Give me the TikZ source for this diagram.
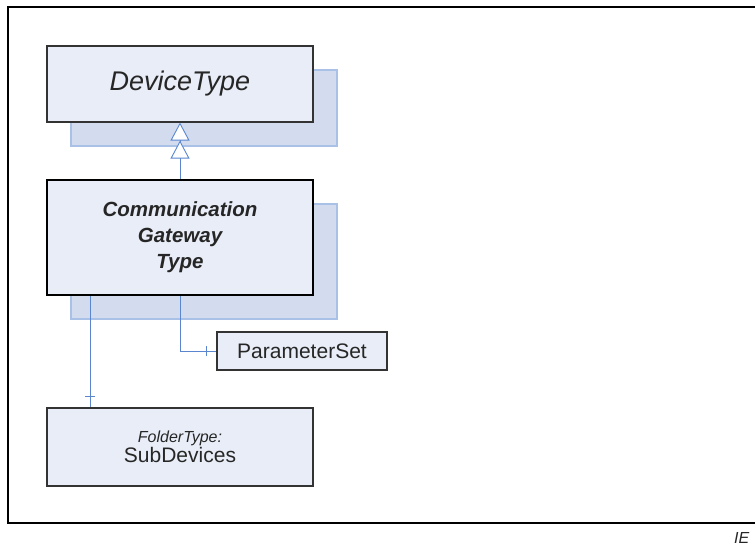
\documentclass[tikz,border=0pt]{standalone}
\usepackage{fontspec}
\setmainfont{Liberation Sans}
\usetikzlibrary{arrows.meta}
\definecolor{boxfill}{HTML}{E8EDF7}
\definecolor{shadefill}{HTML}{D2DCEE}
\definecolor{shadeline}{HTML}{A9C1E6}
\definecolor{linkblue}{HTML}{5B86CF}
\definecolor{textgray}{HTML}{262626}
\tikzset{
  classbox/.style={draw=black!80, line width=1.2pt, fill=boxfill, text=textgray,
    inner sep=0pt, align=center},
  shadowbox/.style={draw=shadeline, line width=1.4pt, fill=shadefill, inner sep=0pt},
  link/.style={draw=linkblue, line width=0.9pt},
  inherit/.style={link, -{Triangle[fill=white, length=18pt, width=19pt, line width=0.9pt]
    Triangle[fill=white, length=18pt, width=19pt, line width=0.9pt]}},
}
\begin{document}
\begin{tikzpicture}[x=1pt, y=-1pt]
  \useasboundingbox (0,0) rectangle (755,545);

  % outer frame, right side runs off the page
  \draw[line width=1.5pt] (770,7) -- (8,7) -- (8,523) -- (770,523);
  \node[anchor=base west, inner sep=0pt, font=\fontsize{16}{18}\selectfont\itshape,
        text=textgray] (tag) at (734,543) {IE};

  % shadows
  \node[shadowbox, minimum width=266pt, minimum height=76pt] (dtshadow) at (204,108) {};
  \node[shadowbox, minimum width=266pt, minimum height=115pt] (cgtshadow) at (204,261.5) {};

  % classes
  \node[classbox, minimum width=266pt, minimum height=76pt,
        font=\fontsize{27}{30}\selectfont\itshape] (dt) at (180,84) {DeviceType};
  \node[classbox, line width=2.8pt, draw=black, minimum width=266pt, minimum height=115pt,
        font=\fontsize{20.5}{26}\selectfont\bfseries\itshape] (cgt) at (180,237.5)
        {Communication\\Gateway\\Type};
  \node[classbox, minimum width=170pt, minimum height=38pt,
        font=\fontsize{21}{24}\selectfont] (ps) at (302,351) {ParameterSet};
  \node[classbox, minimum width=266pt, minimum height=78pt] (sub) at (180,447)
        {{\fontsize{16}{22}\selectfont\itshape FolderType:}\\[0pt]
         {\fontsize{21}{22}\selectfont SubDevices}};

  % connectors
  \draw[inherit] (cgt.north) -- (dt.south);
  \draw[link] ([xshift=44pt]sub.north west |- cgt.south) -- ([xshift=44pt]sub.north west);
  \draw[link] ([xshift=39pt,yshift=11pt]sub.north west) -- ++(10,0);
  \draw[link] (cgt.south) |- (ps.west);
  \draw[link] ([xshift=-10pt,yshift=5pt]ps.west) -- ++(0,10);
\end{tikzpicture}
\end{document}
